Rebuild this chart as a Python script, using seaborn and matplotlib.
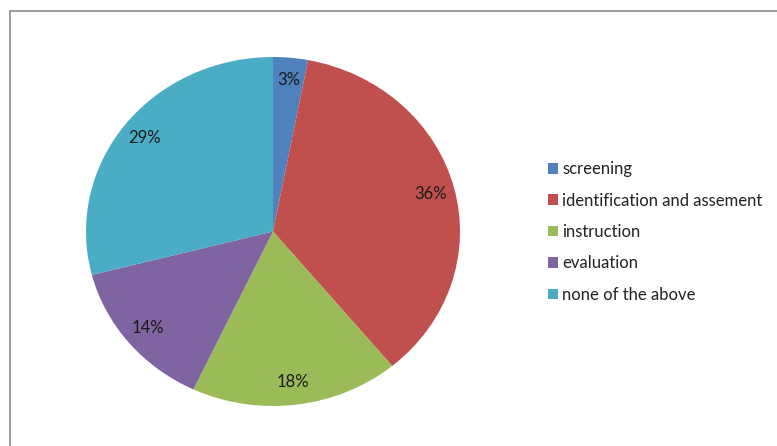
import matplotlib.pyplot as plt
import seaborn as sns
from matplotlib.lines import Line2D
from matplotlib.patches import Patch

# Data
categories = ['screening', 'identification and assement', 'instruction',
              'evaluation', 'none of the above']
shares = [3, 36, 18, 14, 29]
colors = ['#4F81BD', '#C0504D', '#9BBB59', '#8064A2', '#4BACC6']

sns.set_theme(style='white')
plt.rcParams['font.family'] = ['Lato', 'DejaVu Sans']
palette = sns.color_palette(colors)

fig = plt.figure(figsize=(7.77, 4.46), dpi=100)
W, H = 777, 446

# pie occupies pixel box x 86..460, y 57..406 (slightly wide ellipse)
ax = fig.add_axes([86 / W, 1 - 406 / H, 374 / W, 349 / H])
wedges, texts, autotexts = ax.pie(
    shares, colors=palette, startangle=90, counterclock=False,
    autopct='%.0f%%', pctdistance=0.87,
    wedgeprops=dict(linewidth=0),
    textprops=dict(fontsize=12, color='#1a1a1a'))
ax.set_aspect('auto')
ax.set_xlim(-1, 1)
ax.set_ylim(-1, 1)
ax.axis('off')

# Legend
handles = [Patch(facecolor=c, edgecolor='none') for c in palette]
fig.legend(handles, categories, loc='center left',
           bbox_to_anchor=(533 / W, 1 - 232 / H), frameon=False,
           fontsize=12, handlelength=0.6, handleheight=0.6,
           handletextpad=0.25, labelspacing=0.92, labelcolor='#222222')

# Chart-area border (left and top edges visible)
x0 = 9.5 / W
y0 = 1 - 10.5 / H
fig.add_artist(Line2D([x0, x0], [0, y0], transform=fig.transFigure,
                      color='#8c8c8c', linewidth=1.2))
fig.add_artist(Line2D([x0, 1], [y0, y0], transform=fig.transFigure,
                      color='#8c8c8c', linewidth=1.2))

fig.savefig('out.png', dpi=100, facecolor='white')
